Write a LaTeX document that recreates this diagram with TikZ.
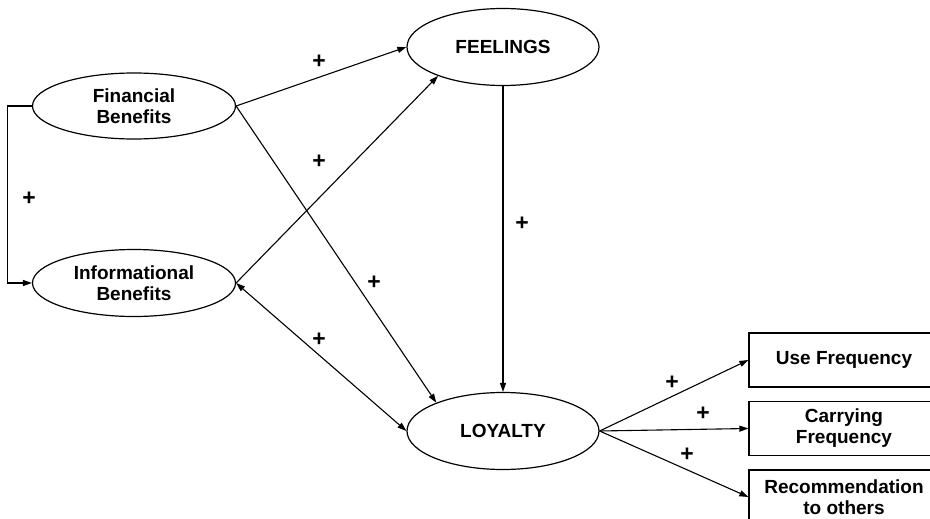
\documentclass[tikz,border=0pt]{standalone}
\usepackage{fontspec}
\setmainfont{Liberation Sans}
\usetikzlibrary{shapes.geometric,arrows.meta}
\begin{document}
\begin{tikzpicture}[x=1pt,y=-1pt,
  font=\fontsize{19}{21}\selectfont\bfseries,
  lat/.style={ellipse,draw,line width=1.2pt,inner sep=0pt,align=center},
  obs/.style={rectangle,draw,line width=1.2pt,inner sep=0pt,align=center,minimum width=190pt,minimum height=54pt},
  arr/.style={line width=1.1pt,-{Triangle[length=9pt,width=6pt]}},
  darr/.style={line width=1.1pt,{Triangle[length=9pt,width=6pt]}-{Triangle[length=9pt,width=6pt]}},
  plus/.style={font=\fontsize{23}{23}\selectfont\bfseries}]
\useasboundingbox (0,0) rectangle (930,519);
\clip (0,0) rectangle (930,519);
\node[lat,minimum width=203pt,minimum height=66pt] (fin) at (134,106) {Financial\\Benefits};
\node[lat,minimum width=203pt,minimum height=67pt] (info) at (134,283) {Informational\\Benefits};
\node[lat,minimum width=192pt,minimum height=77pt] (feel) at (503,47) {FEELINGS};
\node[lat,minimum width=192pt,minimum height=77pt] (loy) at (503,431) {LOYALTY};
\node[obs] (use) at (844,360) {Use Frequency};
\node[obs] (carry) at (844,428.5) {Carrying\\Frequency};
\node[obs] (rec) at (844,497) {Recommendation\\to others};
\draw[arr] (fin.west) -- ++(-24,0) |- (info.west);
\draw[arr] (fin.east) -- (feel.west);
\draw[arr] (fin.east) -- (loy.157);
\draw[arr] (info.east) -- (feel.204);
\draw[darr] (info.east) -- (loy.west);
\draw[arr] (feel.south) -- (loy.north);
\draw[arr] (loy.east) -- (use.west);
\draw[arr] (loy.east) -- (carry.west);
\draw[arr] (loy.east) -- (rec.west);
\node[plus] (p1) at (29,199) {+};
\node[plus] (p2) at (319,62) {+};
\node[plus] (p3) at (319,162) {+};
\node[plus] (p4) at (374,283) {+};
\node[plus] (p5) at (319,340) {+};
\node[plus] (p6) at (522,224) {+};
\node[plus] (p7) at (672,383) {+};
\node[plus] (p8) at (703,414) {+};
\node[plus] (p9) at (687,455) {+};
\end{tikzpicture}
\end{document}
